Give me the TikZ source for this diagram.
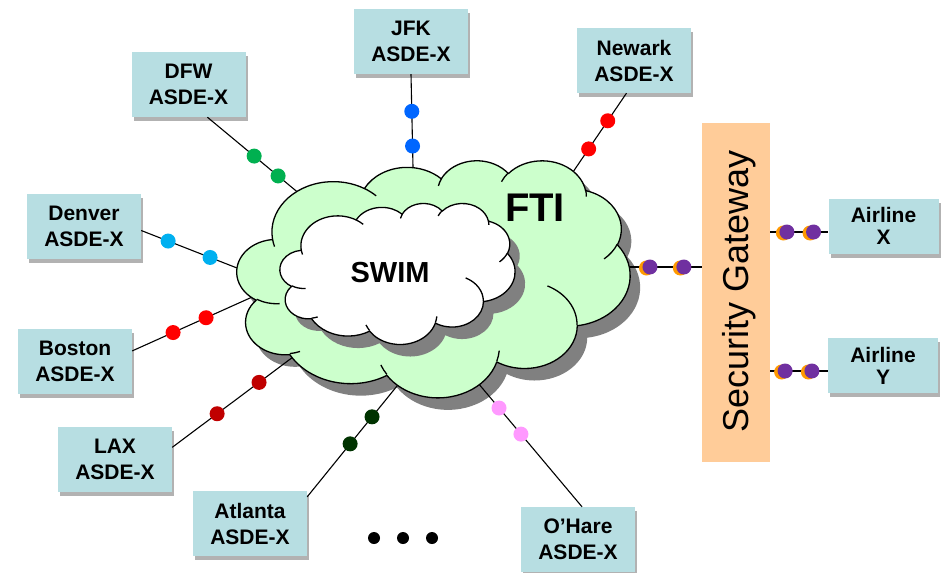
\documentclass[tikz,border=0pt]{standalone}
\usepackage{fontspec}
\setmainfont{Liberation Sans}
\usetikzlibrary{shadows}
\definecolor{boxblue}{RGB}{183,222,226}
\definecolor{ftigreen}{RGB}{204,255,204}
\definecolor{gwor}{RGB}{255,204,153}
\definecolor{cgreen}{RGB}{0,176,80}
\definecolor{cblue}{RGB}{0,102,255}
\definecolor{cred}{RGB}{255,0,0}
\definecolor{ccyan}{RGB}{0,176,240}
\definecolor{cdred}{RGB}{192,0,0}
\definecolor{cdgreen}{RGB}{0,51,0}
\definecolor{cpink}{RGB}{255,153,255}
\definecolor{cpurple}{RGB}{112,48,160}
\definecolor{corange}{RGB}{255,153,0}
\definecolor{shgray}{RGB}{128,128,128}

% elliptical arc in DrawingML style: wR, hR, start angle, sweep (visual angles)
\newcommand\carc[4]{%
  \pgfextra{%
    \pgfmathparse{atan2((#1)*sin(#3),(#2)*cos(#3))}\xdef\cla{\pgfmathresult}%
    \pgfmathparse{atan2((#1)*sin((#3)+(#4)),(#2)*cos((#3)+(#4)))}\xdef\clb{\pgfmathresult}%
    \pgfmathparse{(\clb)-(\cla)}\xdef\cld{\pgfmathresult}%
    \pgfmathparse{ifthenelse(\cld<0,\cld+360,\cld)}\xdef\cld{\pgfmathresult}%
  }%
  arc[x radius=#1, y radius=#2, start angle=\cla, delta angle=\cld]}

\newcommand\cloudmain{(39.00,143.70)
  \carc{67.53}{91.90}{-190.48748}{123.78053}
  \carc{53.33}{72.67}{-144.10238}{89.94523}
  \carc{43.65}{59.45}{-145.80792}{99.72302}
  \carc{48.57}{65.95}{-130.98607}{117.24173}
  \carc{53.33}{72.73}{-78.70888}{109.02692}
  \carc{67.75}{92.20}{-46.26725}{130.269}
  \carc{57.85}{78.67}{0.62502}{114.03333}
  \carc{67.52}{92.15}{22.4516}{115.17255}
  \carc{77.20}{105.43}{66.24263}{75.71102}
  \carc{43.60}{59.18}{-274.94208}{146.73557}
  \carc{43.45}{59.45}{-246.8285}{152.51885}
  -- cycle}

\newcommand\cloudcreases{%
  (46.93,261.77) \carc{43.45}{59.45}{86.742}{26.4295}
  (69.28,348.99) \carc{43.60}{59.18}{73.61047}{11.44747}
  (164.78,390.90) \carc{67.52}{92.15}{137.62415}{14.0811}
  (288.27,347.51) \carc{67.52}{92.15}{6.45327}{15.99835}
  (341.29,229.54) \carc{57.85}{78.67}{-70.29235}{70.91737}
  (417.98,153.54) \carc{53.33}{72.73}{30.31803}{27.7515}
  (383.24,54.26) \carc{48.57}{65.95}{-13.74433}{14.8589}
  (290.78,39.52) \carc{48.57}{65.95}{-149.18145}{18.19537}
  (221.41,47.20) \carc{43.65}{59.45}{-163.49427}{17.68635}
  (140.00,51.92) \carc{67.53}{91.90}{-66.70695}{12.31935}
  (41.27,157.89) \carc{67.53}{91.90}{-202.35}{11.86}}

\begin{document}
\begin{tikzpicture}[x=1pt,y=-1pt,
  abox/.style={fill=boxblue, minimum width=114pt, minimum height=65pt, inner sep=0pt,
    align=center, font=\bfseries\fontsize{21}{26}\selectfont,
    general shadow={fill=black, opacity=.3, shadow xshift=2pt, shadow yshift=-4pt}},
  albox/.style={abox, minimum width=110pt, minimum height=55pt,
    font=\bfseries\fontsize{21}{22}\selectfont},
  conn/.style={line width=1.1pt},
  cdot/.style={circle, fill=#1, inner sep=0pt, minimum size=15pt},
  odot/.style={circle, fill=cpurple, inner sep=0pt, minimum size=15pt,
    general shadow={fill=corange, shadow xshift=-3.5pt, shadow yshift=-1pt}},
  bdot/.style={circle, fill=black, inner sep=0pt, minimum size=12pt},
  cloudline/.style={line width=1.3pt, line join=round},
]
\useasboundingbox (0,0) rectangle (943,573);

% FTI cloud shadow
\begin{scope}[shift={(247,172)}, xscale=0.90972, yscale=0.54861]
  \fill[shgray] \cloudmain;
\end{scope}

% boxes
\node[abox] (dfw) at (188.5,84.5) {DFW\\ASDE-X};
\node[abox] (jfk) at (411,41.5) {JFK\\ASDE-X};
\node[abox] (nwk) at (634,60.5) {Newark\\ASDE-X};
\node[abox] (den) at (84,226.5) {Denver\\ASDE-X};
\node[abox] (bos) at (75,361) {Boston\\ASDE-X};
\node[abox] (lax) at (115,459.5) {LAX\\ASDE-X};
\node[abox] (atl) at (250,523.5) {Atlanta\\ASDE-X};
\node[abox] (ohr) at (578,539.5) {O’Hare\\ASDE-X};
\node[albox] (ax) at (883.5,226) {Airline\\X};
\node[albox] (ay) at (883,365.5) {Airline\\Y};
\node[fill=gwor, minimum width=68pt, minimum height=339pt, inner sep=0pt] (gw) at (736,292.5) {};
\node[rotate=90, font=\fontsize{36}{36}\selectfont] (gwt) at (739,291) {Security Gateway};

% cloud contact points
\coordinate (c-dfw) at (295,190);
\coordinate (c-jfk) at (413,167);
\coordinate (c-nwk) at (573,172);
\coordinate (c-den) at (237,268);
\coordinate (c-bos) at (250,298);
\coordinate (c-lax) at (293,357);
\coordinate (c-atl) at (397,386);
\coordinate (c-ohr) at (478,383);
\coordinate (c-gw) at (627,267);

% connectors
\draw[conn, shorten >=-4pt] (dfw.-60) -- (c-dfw)
  node[cdot=cgreen, pos=.534] (dfw1) {} node[cdot=cgreen, pos=.807] (dfw2) {};
\draw[conn, shorten >=-4pt] (jfk.south) -- (c-jfk)
  node[cdot=cblue, pos=.40] (jfk1) {} node[cdot=cblue, pos=.774] (jfk2) {};
\draw[conn, shorten >=-4pt] (nwk.-103.6) -- (c-nwk)
  node[cdot=cred, pos=.35] (nwk1) {} node[cdot=cred, pos=.707] (nwk2) {};
\draw[conn, shorten >=-4pt] (den.-4) -- (c-den)
  node[cdot=ccyan, pos=.281] (den1) {} node[cdot=ccyan, pos=.719] (den2) {};
\draw[conn, shorten >=-4pt] (bos.10) -- (c-bos)
  node[cdot=cred, pos=.347] (bos1) {} node[cdot=cred, pos=.627] (bos2) {};
\draw[conn, shorten >=-4pt] (lax.12.4) -- (c-lax)
  node[cdot=cdred, pos=.372] (lax1) {} node[cdot=cdred, pos=.719] (lax2) {};
\draw[conn, shorten >=-4pt] (atl.25.8) -- (c-atl)
  node[cdot=cdgreen, pos=.478] (atl1) {} node[cdot=cdgreen, pos=.722] (atl2) {};
\draw[conn, shorten >=-4pt] (ohr.83) -- (c-ohr)
  node[cdot=cpink, pos=.587] (ohr1) {} node[cdot=cpink, pos=.798] (ohr2) {};
\draw[conn, shorten <=-4pt] (c-gw) -- (c-gw -| gw.west)
  node[odot, pos=.307] (gw1) {} node[odot, pos=.76] (gw2) {};
\coordinate (ax1) at ([yshift=-6pt]ax.west);
\coordinate (ay1) at ([yshift=-5.5pt]ay.west);
\draw[conn] (gw.east |- ax1) -- (ax1)
  node[odot, pos=.288] (axd1) {} node[odot, pos=.746] (axd2) {};
\draw[conn] (gw.east |- ay1) -- (ay1)
  node[odot, pos=.259] (ayd1) {} node[odot, pos=.724] (ayd2) {};

% FTI cloud
\begin{scope}[shift={(237,160)}, xscale=0.90972, yscale=0.54861]
  \path[fill=ftigreen, draw=black, cloudline] \cloudmain;
  \draw[cloudline] \cloudcreases;
\end{scope}
% SWIM cloud
\begin{scope}[shift={(290,215)}, xscale=0.54398, yscale=0.32639]
  \fill[shgray] \cloudmain;
\end{scope}
\begin{scope}[shift={(280,203)}, xscale=0.54398, yscale=0.32639]
  \path[fill=white, draw=black, cloudline] \cloudmain;
  \draw[cloudline] \cloudcreases;
\end{scope}

\node[font=\bfseries\fontsize{40}{40}\selectfont] (fti) at (535,207.5) {FTI};
\node[font=\bfseries\fontsize{29}{29}\selectfont] (swim) at (390,273) {SWIM};

% ellipsis
\node[bdot] (e1) at (374,538) {};
\node[bdot] (e2) at (403,538) {};
\node[bdot] (e3) at (432,538) {};
\end{tikzpicture}
\end{document}
